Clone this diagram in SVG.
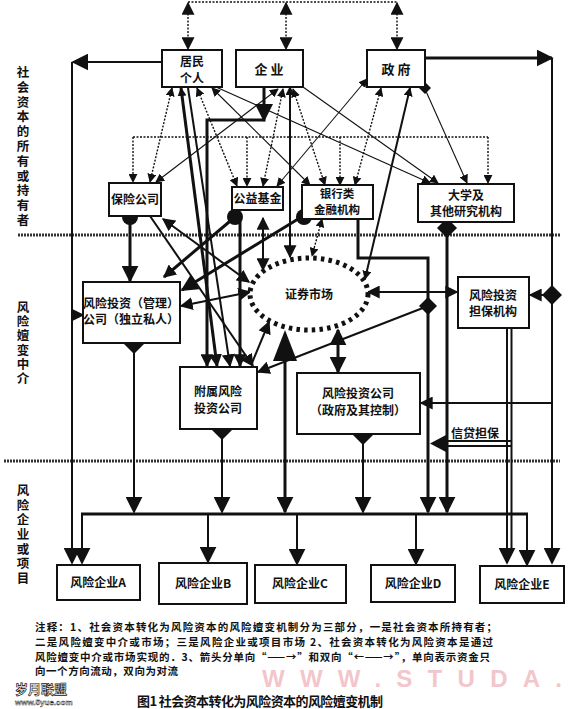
<svg xmlns="http://www.w3.org/2000/svg" width="570" height="709" viewBox="0 0 570 709">
<style>
text{font-family:"Noto Sans CJK SC","Noto Sans CJK TC",sans-serif;font-weight:bold;fill:#111}
.box{fill:#fff;stroke:#111;stroke-width:2}
.t{font-size:12px;text-anchor:middle}
.tb{font-size:13px;text-anchor:middle}
.lab{font-size:12.5px;writing-mode:vertical-rl}
.note{font-size:10.5px}
.thin{fill:none;stroke:#111;stroke-width:1.1}
.dot{fill:none;stroke:#111;stroke-width:1.4;stroke-dasharray:2,1.5}
.med{fill:none;stroke:#111;stroke-width:2}
.thk{fill:none;stroke:#111;stroke-width:3}
.sep{fill:none;stroke:#333;stroke-width:3;stroke-dasharray:2,1}
.sh{fill:#111}
</style>
<defs>
<marker id="s" viewBox="0 0 10 10" refX="9" refY="5" markerWidth="9" markerHeight="9" markerUnits="userSpaceOnUse" orient="auto-start-reverse"><path d="M0,0 L10,5 L0,10 z" fill="#111"/></marker>
<marker id="m" viewBox="0 0 10 10" refX="9" refY="5" markerWidth="13" markerHeight="13" markerUnits="userSpaceOnUse" orient="auto-start-reverse"><path d="M0,0 L10,5 L0,10 z" fill="#111"/></marker>
<marker id="l" viewBox="0 0 10 10" refX="9" refY="5" markerWidth="17" markerHeight="17" markerUnits="userSpaceOnUse" orient="auto-start-reverse"><path d="M0,0 L10,5 L0,10 z" fill="#111"/></marker>
</defs>

<!-- separators -->
<path class="sep" d="M18,235 H560"/>
<path class="sep" d="M4,461 H560"/>

<!-- side labels -->
<text class="lab" x="23" y="66" style="letter-spacing:2.3px">社会资本的所有或持有者</text>
<text class="lab" x="23" y="301" style="letter-spacing:1.7px">风险嬗变中介</text>
<text class="lab" x="23" y="484" style="letter-spacing:2.2px">风险企业或项目</text>

<g id="connectors">
<!-- top links -->
<path class="dot" d="M188,2 H397"/>
<path class="dot" d="M188,3 V49" marker-start="url(#m)" marker-end="url(#m)"/>
<path class="dot" d="M286,3 V49" marker-start="url(#m)" marker-end="url(#m)"/>
<path class="dot" d="M397,3 V49" marker-start="url(#m)" marker-end="url(#m)"/>
<!-- outer left / right -->
<path class="med" d="M162,62 H73" marker-end="url(#l)"/>
<path class="med" d="M72,62 V563" marker-end="url(#l)"/>
<path class="med" d="M72,315 H83" marker-end="url(#m)"/>
<path class="thk" d="M425,58 H552" marker-end="url(#l)"/>
<path class="med" d="M552,58 V563" marker-end="url(#l)"/>
<path class="med" d="M552,295 H530" marker-end="url(#m)"/>
<path class="med" d="M552,403 H421" marker-end="url(#m)"/>
<!-- dotted bracket -->
<path class="dot" d="M133,137 H488"/>
<path class="dot" d="M133,137 V182" marker-end="url(#s)"/>
<path class="dot" d="M247,137 V186" marker-end="url(#s)"/>
<path class="dot" d="M340,137 V185" marker-end="url(#s)"/>
<path class="dot" d="M488,137 V183" marker-end="url(#s)"/>
<!-- thin links among owners -->
<path class="dot" d="M172,88 L150,182" marker-start="url(#s)" marker-end="url(#s)"/>
<path class="dot" d="M197,88 L237,186" marker-start="url(#s)" marker-end="url(#s)"/>
<path class="thin" d="M212,88 L310,185" marker-start="url(#s)" marker-end="url(#s)"/>
<path class="thin" d="M216,87 L430,183" marker-end="url(#s)"/>
<path class="thin" d="M278,89 L156,182" marker-start="url(#s)" marker-end="url(#s)"/>
<path class="dot" d="M283,89 L263,186" marker-start="url(#s)" marker-end="url(#s)"/>
<path class="dot" d="M293,89 L325,185" marker-start="url(#s)" marker-end="url(#s)"/>
<path class="thin" d="M303,87 L438,183" marker-end="url(#s)"/>
<path class="thin" d="M367,79 L277,186" marker-start="url(#s)" marker-end="url(#s)"/>
<path class="dot" d="M381,88 L355,185" marker-start="url(#s)" marker-end="url(#s)"/>
<path class="med" d="M410,88 L365,279" marker-start="url(#s)" marker-end="url(#s)"/>
<path class="thin" d="M425,89 L467,183" marker-end="url(#s)"/>
<!-- thick flows to intermediaries -->
<path class="thk" d="M264,87 V120 H207 V366" marker-end="url(#m)"/>
<polygon class="sh" points="255,104 273,104 264,122"/>
<path class="med" d="M290,87 V257" marker-start="url(#s)" marker-end="url(#m)"/>
<path class="thk" d="M181,88 L217,366" marker-start="url(#s)" marker-end="url(#m)"/>
<path class="med" d="M188,88 L230,366" marker-end="url(#m)"/>
<path class="thk" d="M240,217 V366" marker-end="url(#m)"/>
<path class="thk" d="M235,217 L164,277" marker-end="url(#m)"/>
<path class="thk" d="M130,217 V281" marker-end="url(#l)"/>
<path class="med" d="M150,216 L253,366" marker-end="url(#m)"/>
<path class="med" d="M163,219 L249,282" marker-start="url(#m)" marker-end="url(#m)"/>
<path class="thk" d="M303,216 L182,290" marker-end="url(#l)"/>
<path class="dot" d="M322,219 L312,256" marker-start="url(#s)" marker-end="url(#s)"/>
<path class="med" d="M263,218 V270" marker-start="url(#m)" marker-end="url(#m)"/>
<path class="med" d="M181,306 L250,292" marker-start="url(#m)" marker-end="url(#m)"/>
<path class="med" d="M252,363 L269,322" marker-end="url(#m)"/>
<path class="med" d="M428,306 L258,372" marker-end="url(#m)"/>
<path class="thk" d="M285,350 V512" marker-end="url(#l)"/>
<polygon class="sh" points="285,330 273,361 297,361"/>
<path class="thk" d="M338,330 V372" marker-start="url(#l)" marker-end="url(#l)"/>
<path class="thk" d="M358,219 V258 H428 V512" marker-end="url(#l)"/>
<path class="thk" d="M447,228 V512" marker-end="url(#l)"/>
<path class="med" d="M368,292 H457" marker-start="url(#m)" marker-end="url(#m)"/>
<path class="med" d="M507,328 V563" marker-end="url(#l)"/>
<path class="med" d="M511.5,328 V548"/>
<path class="med" d="M511,441 H440"/>
<path class="med" d="M511,446 H440"/>
<polygon class="sh" points="430,443.5 446,435 446,452"/>
<!-- to bus -->
<path class="med" d="M134,343 V512" marker-end="url(#l)"/>
<path class="med" d="M222,429 V512" marker-end="url(#l)"/>
<path class="med" d="M363,434 V512" marker-end="url(#l)"/>
<path class="thk" d="M81,514 H528"/>
<path class="med" d="M82,514 V563" marker-end="url(#l)"/>
<path class="med" d="M208,514 V562" marker-end="url(#l)"/>
<path class="med" d="M297,514 V564" marker-end="url(#l)"/>
<path class="med" d="M416,514 V564" marker-end="url(#l)"/>
<path class="med" d="M527,514 V565" marker-end="url(#l)"/>
<!-- diamonds and dots -->
<circle class="sh" cx="130" cy="217" r="8"/>
<circle class="sh" cx="235" cy="217" r="8"/>
<circle class="sh" cx="304" cy="217" r="8"/>
<polygon class="sh" points="447,218 457,228 447,238 437,228"/>
<polygon class="sh" points="425,82 431,88 425,94 419,88"/>
<polygon class="sh" points="134,334 144,344 134,354 124,344"/>
<polygon class="sh" points="222,420 232,430 222,440 212,430"/>
<polygon class="sh" points="363,425 373,435 363,445 353,435"/>
<polygon class="sh" points="428,297 437,306 428,315 419,306"/>
<polygon class="sh" points="552,285 562,295 552,305 542,295"/>
</g>

<g id="n-jumin"><rect class="box" x="162" y="50" width="60" height="37"/><text class="t"><tspan x="192" y="66">居民</tspan><tspan x="192" y="82.5">个人</tspan></text></g>
<g id="n-qiye"><rect class="box" x="236" y="50" width="67" height="37"/><text class="tb" x="269" y="74">企 业</text></g>
<g id="n-zhengfu"><rect class="box" x="367" y="50" width="58" height="37"/><text class="tb" x="396" y="74">政 府</text></g>
<g id="n-baoxian"><rect class="box" x="109" y="183" width="52" height="33"/><text class="t" x="135" y="204">保险公司</text></g>
<g id="n-gongyi"><rect class="box" x="232" y="187" width="51" height="23"/><text class="t" x="257.5" y="203">公益基金</text></g>
<g id="n-yinhang"><rect class="box" x="302" y="185" width="71" height="34"/><text class="t" style="font-size:11.5px"><tspan x="337" y="198">银行类</tspan><tspan x="337" y="214">金融机构</tspan></text></g>
<g id="n-daxue"><rect class="box" x="418" y="184" width="96" height="38"/><text class="t"><tspan x="466" y="200">大学及</tspan><tspan x="466" y="216">其他研究机构</tspan></text></g>
<g id="n-vcpriv"><rect class="box" x="83" y="282" width="97" height="61"/><text class="t"><tspan x="131" y="308">风险投资（管理）</tspan><tspan x="131" y="324">公司（独立私人）</tspan></text></g>
<g id="n-market"><ellipse cx="309" cy="294" rx="59" ry="36" fill="#fff" stroke="#111" stroke-width="5" stroke-dasharray="3.5,4.2"/><text class="t" x="309" y="299">证券市场</text></g>
<g id="n-fushu"><rect class="box" x="180" y="367" width="77" height="62"/><text class="t"><tspan x="218" y="396">附属风险</tspan><tspan x="218" y="413">投资公司</tspan></text></g>
<g id="n-vcgov"><rect class="box" x="297" y="373" width="123" height="61"/><text class="t"><tspan x="358" y="398">风险投资公司</tspan><tspan x="358" y="415">（政府及其控制）</tspan></text></g>
<g id="n-danbao"><rect class="box" x="458" y="277" width="71" height="51"/><text class="t"><tspan x="493" y="300">风险投资</tspan><tspan x="493" y="316">担保机构</tspan></text></g>
<text class="t" x="475" y="438">信贷担保</text>
<g id="n-A"><rect class="box" x="57" y="565" width="83" height="35"/><text class="t" x="98" y="587">风险企业A</text></g>
<g id="n-B"><rect class="box" x="159" y="563" width="88" height="41"/><text class="t" x="203" y="588">风险企业B</text></g>
<g id="n-C"><rect class="box" x="255" y="565" width="91" height="38"/><text class="t" x="300" y="588">风险企业C</text></g>
<g id="n-D"><rect class="box" x="371" y="565" width="84" height="37"/><text class="t" x="413" y="588">风险企业D</text></g>
<g id="n-E"><rect class="box" x="480" y="566" width="84" height="37"/><text class="t" x="522" y="589">风险企业E</text></g>

<!-- watermark -->
<text x="262" y="687" font-size="24" style="fill:#f2c6cb;font-family:'Liberation Sans',sans-serif" textLength="300">WWW.STUDA.</text>

<!-- notes -->
<text class="note" x="35" y="631" textLength="462">注释：1、社会资本转化为风险资本的风险嬗变机制分为三部分，一是社会资本所持有者；</text>
<text class="note" x="35" y="646" textLength="458">二是风险嬗变中介或市场；三是风险企业或项目市场  2、社会资本转化为风险资本是通过</text>
<text class="note" x="35" y="661" textLength="455">风险嬗变中介或市场实现的．3、箭头分单向“——→”和双向“←——→”，单向表示资金只</text>
<text class="note" x="35" y="675" textLength="143">向一个方向流动，双向为对流</text>
<text x="15" y="694" font-size="13" style="fill:#fff;stroke:#111;stroke-width:0.7">岁月联盟</text>
<text x="15" y="705" font-size="8" style="fill:#fff;stroke:#111;stroke-width:0.4;font-family:'Liberation Sans',sans-serif">www.5yue.com</text>
<text x="137" y="706" font-size="13" textLength="246">图1 社会资本转化为风险资本的风险嬗变机制</text>
</svg>
